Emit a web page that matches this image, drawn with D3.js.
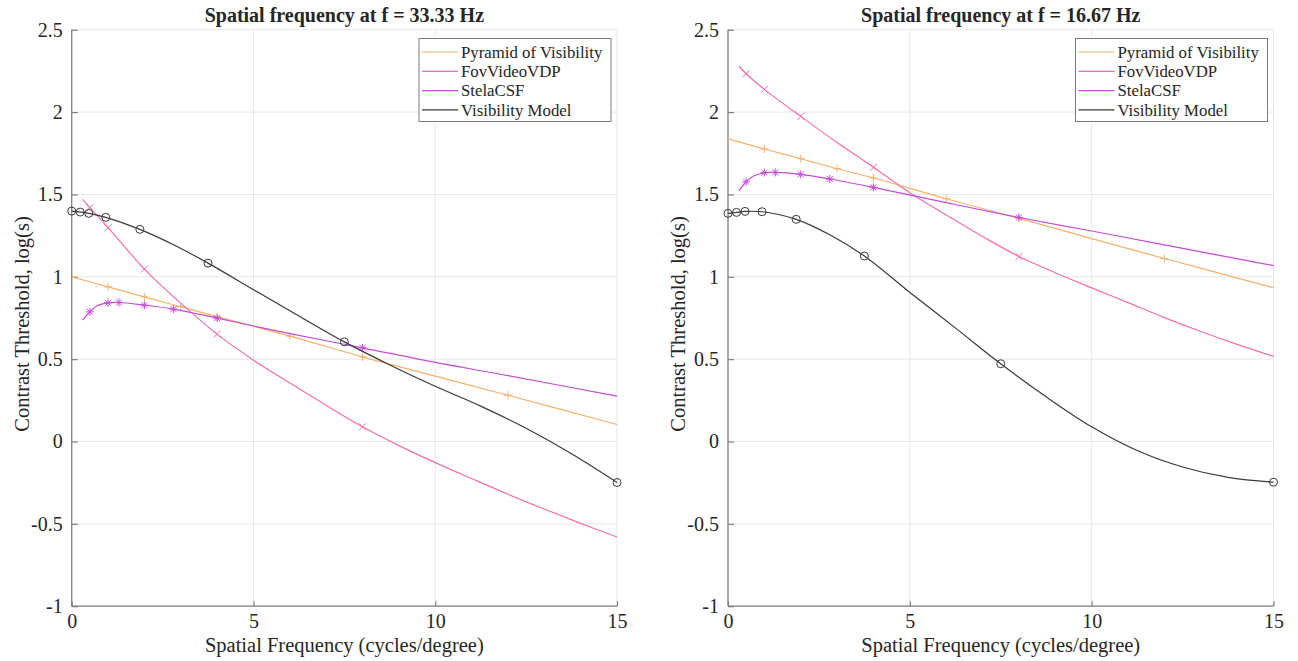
<!DOCTYPE html>
<html>
<head>
<meta charset="utf-8">
<script src="https://cdn.jsdelivr.net/npm/d3@7"></script>
<style>
body { margin: 0; background: #fff; }
text { font-family: "Liberation Serif", "Times New Roman", serif; fill: #262626; }
</style>
</head>
<body>
<div id="graph"></div>
<script>
// values
// Visibility Model (circles)
const freq_vis = [0, 0.234, 0.469, 0.9375, 1.875, 2.8, 3.75, 5, 6.25, 7.5, 8.75, 10, 11.25, 12.5, 13.75, 15];
const vis_33 = [1.399, 1.393, 1.385, 1.361, 1.288, 1.195, 1.083, 0.922, 0.762, 0.605, 0.465, 0.335, 0.215, 0.08, -0.075, -0.249];
const vis_16 = [1.385, 1.391, 1.397, 1.395, 1.349, 1.255, 1.126, 0.905, 0.69, 0.472, 0.271, 0.089, -0.055, -0.155, -0.218, -0.247];
const vis_marks = [0, 1, 2, 3, 4, 6, 9, 15];

// FovVideoVDP (x)
const freq_fov = [0.3, 0.5, 1, 2, 3, 4, 5, 6, 7, 8, 9, 10, 11, 12, 13, 14, 15];
const fov_33 = [1.47, 1.42, 1.298, 1.047, 0.84, 0.652, 0.494, 0.355, 0.22, 0.089, -0.025, -0.128, -0.225, -0.32, -0.41, -0.497, -0.58];
const fov_16 = [2.28, 2.233, 2.138, 1.974, 1.815, 1.665, 1.51, 1.375, 1.245, 1.123, 1.025, 0.933, 0.843, 0.752, 0.668, 0.59, 0.517];
const fov_marks = [1, 2, 3, 5, 9];

// Pyramid of Visibility (+)
const freq_pyr = [0, 1, 2, 3, 4, 6, 8, 10, 12, 15];
const pyr_33 = [1.0, 0.939, 0.878, 0.818, 0.758, 0.64, 0.514, 0.397, 0.281, 0.103];
const pyr_16 = [1.837, 1.776, 1.717, 1.656, 1.6, 1.474, 1.355, 1.232, 1.111, 0.934];
const pyr_marks = [1, 2, 3, 4, 5, 6, 8];

// StelaCSF (*)
const freq_stela = [0.3, 0.5, 0.7, 1, 1.3, 2, 2.8, 4, 6, 8, 10, 12, 15];
const stela_33 = [0.737, 0.787, 0.824, 0.842, 0.844, 0.828, 0.804, 0.749, 0.655, 0.569, 0.48, 0.4, 0.275];
const stela_16 = [1.522, 1.577, 1.612, 1.632, 1.634, 1.622, 1.594, 1.543, 1.45, 1.36, 1.278, 1.194, 1.068];
const stela_marks = [1, 3, 4, 5, 6, 7, 9];

const x_ticks = [0, 5, 10, 15];
const y_ticks = [-1, -0.5, 0, 0.5, 1, 1.5, 2, 2.5];
const legend_names = ["Pyramid of Visibility", "FovVideoVDP", "StelaCSF", "Visibility Model"];
const titles = ["Spatial frequency at f = 33.33 Hz", "Spatial frequency at f = 16.67 Hz"];

const colors = {pyr: "#f7b16b", fov: "#f26eae", stela: "#c64cd6", vis: "#3a3a3a"};

const width = 1298, height = 661;
const plot_top = 29.75, plot_bottom = 606.2;

let svg = d3.select("#graph")
    .append("svg")
    .attr("width", width)
    .attr("height", height);

// marker shapes, MATLAB style
const marker_path = {
    plus: "M-4,0H4M0,-4V4",
    cross: "M-3.5,-3.5L3.5,3.5M-3.5,3.5L3.5,-3.5",
    star: "M-4,0H4M0,-4V4M-3,-3L3,3M-3,3L3,-3"
};

function drawPanel(left, right, title, series) {
    let g = svg.append("g");

    let x = d3.scaleLinear().domain([0, 15]).range([left, right]);
    let y = d3.scaleLinear().domain([-1, 2.5]).range([plot_bottom, plot_top]);

    // grid
    g.append("g")
        .selectAll("line").data(x_ticks).join("line")
        .attr("x1", d => x(d)).attr("x2", d => x(d))
        .attr("y1", plot_top).attr("y2", plot_bottom)
        .attr("stroke", "#e6e6e6").attr("stroke-width", 1);
    g.append("g")
        .selectAll("line").data(y_ticks).join("line")
        .attr("x1", left).attr("x2", right)
        .attr("y1", d => y(d)).attr("y2", d => y(d))
        .attr("stroke", "#e6e6e6").attr("stroke-width", 1);

    // axes with inward ticks
    let xAxis = g.append("g")
        .attr("transform", `translate(0, ${plot_bottom})`)
        .call(d3.axisBottom(x).tickValues(x_ticks).tickSize(-5).tickPadding(8).tickFormat(d => String(d)));
    let yAxis = g.append("g")
        .attr("transform", `translate(${left}, 0)`)
        .call(d3.axisLeft(y).tickValues(y_ticks).tickSize(-6).tickPadding(9).tickFormat(d => String(d)));
    [xAxis, yAxis].forEach(a => {
        a.select(".domain").attr("stroke", "#808080").attr("stroke-width", 1.3);
        a.selectAll(".tick line").attr("stroke", "#808080").attr("stroke-width", 1.2);
        a.selectAll(".tick text").attr("fill", "#262626").style("font-size", "20px")
            .style("font-family", '"Liberation Serif", "Times New Roman", serif');
    });
    xAxis.select(".domain").attr("d", `M${left},0H${right}`);
    yAxis.select(".domain").attr("d", `M0,${plot_bottom}V${plot_top}`);

    // curves
    series.forEach(s => {
        let pts = s.xs.map((v, i) => [v, s.ys[i]]);
        g.append("path")
            .datum(pts)
            .attr("fill", "none")
            .attr("stroke", s.color)
            .attr("stroke-width", 1.2)
            .attr("d", d3.line().x(d => x(d[0])).y(d => y(d[1])).curve(d3.curveCatmullRom.alpha(0.5)));

        let marks = s.marks.map(i => pts[i]);
        if (s.marker === "circle") {
            g.selectAll(null).data(marks).join("circle")
                .attr("cx", d => x(d[0])).attr("cy", d => y(d[1]))
                .attr("r", 4)
                .attr("fill", "none").attr("stroke", s.color).attr("stroke-width", 1);
        } else {
            g.selectAll(null).data(marks).join("path")
                .attr("transform", d => `translate(${x(d[0])}, ${y(d[1])})`)
                .attr("d", marker_path[s.marker])
                .attr("fill", "none").attr("stroke", s.color).attr("stroke-width", 1);
        }
    });

    // title
    g.append("text")
        .attr("x", (left + right) / 2)
        .attr("y", 22)
        .style("text-anchor", "middle")
        .style("font-size", "20px")
        .style("font-weight", "bold")
        .attr("fill", "#000")
        .text(title);

    // axis labels
    g.append("text")
        .attr("x", (left + right) / 2)
        .attr("y", 652)
        .style("text-anchor", "middle")
        .style("font-size", "20.5px")
        .text("Spatial Frequency (cycles/degree)");
    g.append("text")
        .attr("transform", `translate(${left - 43}, ${(plot_top + plot_bottom) / 2 + 6}) rotate(-90)`)
        .style("text-anchor", "middle")
        .style("font-size", "20.5px")
        .text("Contrast Threshold, log(s)");

    // legend
    let lx = right - 198, ly = 38.5;
    let leg = g.append("g").attr("transform", `translate(${lx}, ${ly})`);
    leg.append("rect")
        .attr("width", 192).attr("height", 83)
        .attr("fill", "#fff").attr("stroke", "#7a7a7a").attr("stroke-width", 1);
    series.forEach((s, i) => {
        let ry = 13.5 + i * 19.3;
        leg.append("line")
            .attr("x1", 3).attr("x2", 39)
            .attr("y1", ry).attr("y2", ry)
            .attr("stroke", s.color).attr("stroke-width", 1.2);
        leg.append("text")
            .attr("x", 42).attr("y", ry)
            .attr("dy", "0.35em")
            .style("font-size", "16.8px")
            .text(s.name);
    });
}

drawPanel(71.7, 617, titles[0], [
    {name: legend_names[0], xs: freq_pyr, ys: pyr_33, marks: pyr_marks, marker: "plus", color: colors.pyr},
    {name: legend_names[1], xs: freq_fov, ys: fov_33, marks: fov_marks, marker: "cross", color: colors.fov},
    {name: legend_names[2], xs: freq_stela, ys: stela_33, marks: stela_marks, marker: "star", color: colors.stela},
    {name: legend_names[3], xs: freq_vis, ys: vis_33, marks: vis_marks, marker: "circle", color: colors.vis}
]);

drawPanel(728, 1273.5, titles[1], [
    {name: legend_names[0], xs: freq_pyr, ys: pyr_16, marks: pyr_marks, marker: "plus", color: colors.pyr},
    {name: legend_names[1], xs: freq_fov, ys: fov_16, marks: fov_marks, marker: "cross", color: colors.fov},
    {name: legend_names[2], xs: freq_stela, ys: stela_16, marks: stela_marks, marker: "star", color: colors.stela},
    {name: legend_names[3], xs: freq_vis, ys: vis_16, marks: vis_marks, marker: "circle", color: colors.vis}
]);
</script>
</body>
</html>
